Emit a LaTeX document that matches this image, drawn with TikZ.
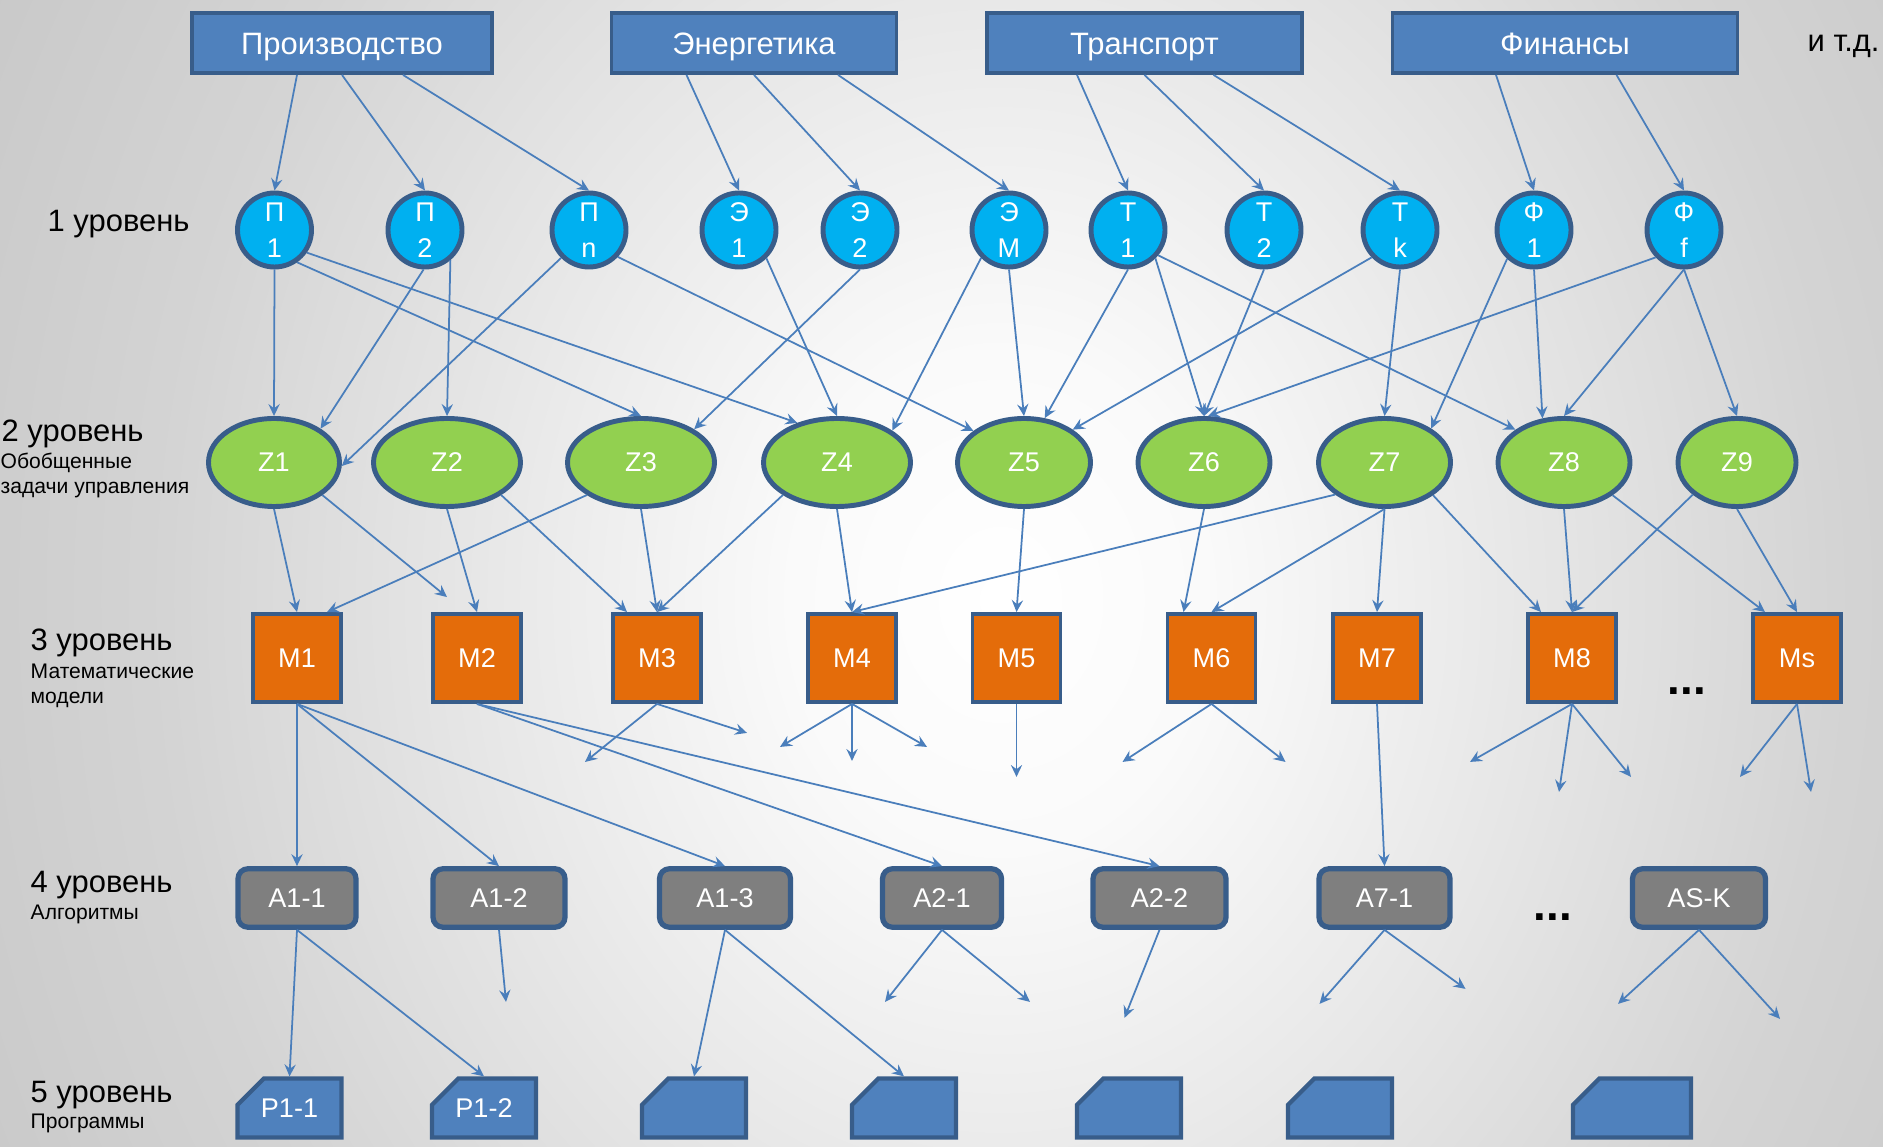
\documentclass[tikz,border=0pt]{standalone}
\usepackage{fontspec}
\setmainfont{Liberation Sans}
\usetikzlibrary{calc,shapes,arrows.meta}

\definecolor{edgeblue}{RGB}{56,93,138}
\definecolor{linkblue}{RGB}{74,126,187}
\definecolor{sectorblue}{RGB}{79,129,189}
\definecolor{subcyan}{RGB}{0,176,240}
\definecolor{taskgreen}{RGB}{146,208,80}
\definecolor{modelorange}{RGB}{228,108,10}
\definecolor{algogray}{RGB}{127,127,127}

% light spot in the middle, grey towards the edges
\pgfdeclareradialshading{backdrop}{\pgfpoint{0bp}{0bp}}{color(0bp)=(white); color(5bp)=(black!2); color(20bp)=(black!17); color(35bp)=(black!26); color(45bp)=(black!35); color(55bp)=(black!40); color(75bp)=(black!45)}

\tikzstyle{every picture}=[->,>={Stealth[length=3.4pt,width=3.2pt,inset=1.2pt]}]
\tikzstyle{sector}=[rectangle,draw=edgeblue,fill=sectorblue,line width=1.1pt,minimum height=0.6cm,text height=6.3pt,text depth=0pt,text=white,font=\fontsize{8.8}{10}\selectfont]
\tikzstyle{sub}=[circle,draw=edgeblue,fill=subcyan,line width=1.4pt,minimum size=0.74cm,inner sep=0pt,align=center,text=white,font=\fontsize{7.7}{10.2}\selectfont]
\tikzstyle{task}=[ellipse,draw=edgeblue,fill=taskgreen,line width=1.4pt,minimum height=0.88cm,inner sep=0pt,text=white,font=\fontsize{7.7}{9}\selectfont]
\tikzstyle{model}=[rectangle,draw=edgeblue,fill=modelorange,line width=1.1pt,minimum size=0.88cm,text=white,font=\fontsize{7.7}{9}\selectfont]
\tikzstyle{algo}=[rectangle,rounded corners=0.1cm,draw=edgeblue,fill=algogray,line width=1.5pt,minimum height=0.585cm,text=white,font=\fontsize{7.7}{9}\selectfont]
\tikzstyle{prog}=[chamfered rectangle,chamfered rectangle corners=north west,chamfered rectangle xsep=0.2cm,chamfered rectangle ysep=0.17cm,inner sep=0pt,draw=edgeblue,fill=sectorblue,line width=1.2pt,minimum height=0.59cm,minimum width=1.04cm,text=white,font=\fontsize{7.7}{9}\selectfont]
\tikzstyle{link}=[linkblue,line width=0.5pt]
\tikzstyle{level}=[anchor=base west,inner sep=0pt,font=\fontsize{8.8}{10}\selectfont]
\tikzstyle{sublevel}=[anchor=base west,inner sep=0pt,font=\fontsize{6}{7}\selectfont]

\begin{document}
\begin{tikzpicture}
    % background
    \begin{scope}
        \clip (0,0) rectangle (18.83,-11.47);
        \shade[shading=backdrop] (-0.5,6.5) rectangle (20.5,-18.5);
    \end{scope}
    \useasboundingbox (0,0) rectangle (18.83,-11.47);

    % Sectors
    \node[sector,minimum width=3.0cm] (prod) at (3.42,-0.43) {Производство};
    \node[sector,minimum width=2.85cm] (ener) at (7.54,-0.43) {Энергетика};
    \node[sector,minimum width=3.15cm] (trans) at (11.445,-0.43) {Транспорт};
    \node[sector,minimum width=3.45cm] (fin) at (15.65,-0.43) {Финансы};
    \node[level] (etc) at (18.07,-0.52) {и т.д.};

    % Level labels
    \node[level] (lev1) at (0.47,-2.32) {1 уровень};
    \node[level] (lev2) at (0.01,-4.42) {2 уровень};
    \node[sublevel] (lev2a) at (0.0,-4.69) {Обобщенные};
    \node[sublevel] (lev2b) at (0.0,-4.94) {задачи управления};
    \node[level] (lev3) at (0.30,-6.51) {3 уровень};
    \node[sublevel] (lev3a) at (0.30,-6.79) {Математические};
    \node[sublevel] (lev3b) at (0.30,-7.04) {модели};
    \node[level] (lev4) at (0.30,-8.92) {4 уровень};
    \node[sublevel] (lev4a) at (0.30,-9.19) {Алгоритмы};
    \node[level] (lev5) at (0.30,-11.02) {5 уровень};
    \node[sublevel] (lev5a) at (0.30,-11.28) {Программы};

    % Level 1
    \node[sub] (pr1) at (2.745,-2.30) {П\\1};
    \node[sub] (pr2) at (4.25,-2.30) {П\\2};
    \node[sub] (prn) at (5.89,-2.30) {П\\n};
    \node[sub] (en1) at (7.39,-2.30) {Э\\1};
    \node[sub] (en2) at (8.60,-2.30) {Э\\2};
    \node[sub] (enm) at (10.09,-2.30) {Э\\M};
    \node[sub] (tr1) at (11.28,-2.30) {Т\\1};
    \node[sub] (tr2) at (12.64,-2.30) {Т\\2};
    \node[sub] (trk) at (14.00,-2.30) {Т\\k};
    \node[sub] (fi1) at (15.34,-2.30) {Ф\\1};
    \node[sub] (fif) at (16.84,-2.30) {Ф\\f};

    % Level 2
    \node[task,minimum width=1.31cm] (z1) at (2.74,-4.625) {Z1};
    \node[task,minimum width=1.47cm] (z2) at (4.47,-4.625) {Z2};
    \node[task,minimum width=1.47cm] (z3) at (6.41,-4.625) {Z3};
    \node[task,minimum width=1.47cm] (z4) at (8.37,-4.625) {Z4};
    \node[task,minimum width=1.33cm] (z5) at (10.24,-4.625) {Z5};
    \node[task,minimum width=1.32cm] (z6) at (12.04,-4.625) {Z6};
    \node[task,minimum width=1.32cm] (z7) at (13.845,-4.625) {Z7};
    \node[task,minimum width=1.32cm] (z8) at (15.64,-4.625) {Z8};
    \node[task,minimum width=1.18cm] (z9) at (17.37,-4.625) {Z9};

    % Level 3
    \node[model] (m1) at (2.97,-6.58) {M1};
    \node[model] (m2) at (4.77,-6.58) {M2};
    \node[model] (m3) at (6.57,-6.58) {M3};
    \node[model] (m4) at (8.52,-6.58) {M4};
    \node[model] (m5) at (10.165,-6.58) {M5};
    \node[model] (m6) at (12.115,-6.58) {M6};
    \node[model] (m7) at (13.77,-6.58) {M7};
    \node[model] (m8) at (15.72,-6.58) {M8};
    \node[model] (ms) at (17.97,-6.58) {Ms};
    \node[font=\fontsize{13}{14}\bfseries\selectfont] (dots3) at (16.87,-6.915) {...};

    % Level 4
    \node[algo,minimum width=1.18cm] (a11) at (2.97,-8.98) {A1-1};
    \node[algo,minimum width=1.32cm] (a12) at (4.99,-8.98) {A1-2};
    \node[algo,minimum width=1.31cm] (a13) at (7.25,-8.98) {A1-3};
    \node[algo,minimum width=1.19cm] (a21) at (9.42,-8.98) {A2-1};
    \node[algo,minimum width=1.33cm] (a22) at (11.595,-8.98) {A2-2};
    \node[algo,minimum width=1.31cm] (a71) at (13.845,-8.98) {A7-1};
    \node[algo,minimum width=1.33cm] (ask) at (16.99,-8.98) {AS-K};
    \node[font=\fontsize{13}{14}\bfseries\selectfont] (dots4) at (15.53,-9.17) {...};

    % Level 5
    \node[prog] (prg1) at (2.895,-11.08) {P1-1};
    \node[prog] (prg2) at (4.84,-11.08) {P1-2};
    \node[prog] (prg3) at (6.94,-11.08) {\phantom{P1-1}};
    \node[prog] (prg4) at (9.04,-11.08) {\phantom{P1-1}};
    \node[prog] (prg5) at (11.29,-11.08) {\phantom{P1-1}};
    \node[prog] (prg6) at (13.40,-11.08) {\phantom{P1-1}};
    \node[prog,minimum width=1.18cm] (prg7) at (16.32,-11.08) {\phantom{P1-1}};

    % Sectors -> level 1
    \draw[link] ([xshift=-0.45cm]prod.south) -- (pr1.north);
    \draw[link] (prod.south) -- (pr2.north);
    \draw[link] ([xshift=0.61cm]prod.south) -- (prn.north);
    \draw[link] ([xshift=-0.675cm]ener.south) -- (en1.north);
    \draw[link] (ener.south) -- (en2.north);
    \draw[link] ([xshift=0.84cm]ener.south) -- (enm.north);
    \draw[link] ([xshift=-0.675cm]trans.south) -- (tr1.north);
    \draw[link] (trans.south) -- (tr2.north);
    \draw[link] ([xshift=0.69cm]trans.south) -- (trk.north);
    \draw[link] ([xshift=-0.69cm]fin.south) -- (fi1.north);
    \draw[link] ([xshift=0.515cm]fin.south) -- (fif.north);

    % Level 1 -> level 2
    \draw[link] (pr1.south) -- (z1.north);
    \draw[link] (pr1.-55) -- (z3.north);
    \draw[link] (pr1.-35) -- (z4.135);
    \draw[link] (pr2.-92) -- (z1.36);
    \draw[link] (pr2.-50) -- (z2.north);
    \draw[link] (prn.-135) -- (z1.-3);
    \draw[link] (prn.-43) -- (z5.148);
    \draw[link] (en1.-46) -- (z4.north);
    \draw[link] (en2.south) -- (z3.32);
    \draw[link] (enm.-135) -- (z4.30);
    \draw[link] (enm.south) -- (z5.north);
    \draw[link] (tr1.south) -- (z5.65);
    \draw[link] (tr1.-46) -- (z6.north);
    \draw[link] (tr1.-40) -- (z8.146);
    \draw[link] (tr2.south) -- (z6.north);
    \draw[link] (trk.-136) -- (z5.34);
    \draw[link] (trk.south) -- (z7.north);
    \draw[link] (fi1.-133) -- (z7.36);
    \draw[link] (fi1.south) -- (z8.116);
    \draw[link] (fif.-136) -- (z6.85);
    \draw[link] (fif.south) -- (z8.north);
    \draw[link] (fif.south) -- (z9.north);

    % Level 2 -> level 3
    \draw[link] (z1.south) -- (m1.north);
    \draw[link] (z1.-34) -- ([xshift=-0.3cm,yshift=0.15cm]m2.north);
    \draw[link] (z2.south) -- (m2.north);
    \draw[link] (z2.-31) -- ([xshift=-0.3cm]m3.north);
    \draw[link] (z3.-149) -- ([xshift=0.3cm]m1.north);
    \draw[link] (z3.south) -- (m3.north);
    \draw[link] (z4.-149) -- (m3.north);
    \draw[link] (z4.south) -- (m4.north);
    \draw[link] (z7.-147) -- (m4.north);
    \draw[link] (z5.south) -- (m5.north);
    \draw[link] (z6.south) -- ([xshift=-0.28cm]m6.north);
    \draw[link] (z7.south) -- (m6.north);
    \draw[link] (z7.south) -- (m7.north);
    \draw[link] (z7.-34) -- ([xshift=-0.31cm]m8.north);
    \draw[link] (z8.south) -- (m8.north);
    \draw[link] (z8.-34) -- ([xshift=-0.32cm]ms.north);
    \draw[link] (z9.-144) -- (m8.north);
    \draw[link] (z9.south) -- (ms.north);

    % Level 3 -> level 4
    \draw[link] (m1.south) -- (a11.north);
    \draw[link] (m1.south) -- (a12.north);
    \draw[link] (m1.south) -- (a13.north);
    \draw[link] (m2.south) -- (a21.north);
    \draw[link] (m2.south) -- (a22.north);
    \draw[link] (m3.south) -- ++(-0.72,-0.58);
    \draw[link] (m3.south) -- ++(0.90,-0.29);
    \draw[link] (m4.south) -- ++(-0.72,-0.43);
    \draw[link] (m4.south) -- ++(0,-0.57);
    \draw[link] (m4.south) -- ++(0.75,-0.43);
    \draw[link] (m5.south) -- ++(0,-0.73);
    \draw[link] (m6.south) -- ++(-0.89,-0.58);
    \draw[link] (m6.south) -- ++(0.74,-0.58);
    \draw[link] (m7.south) -- (a71.north);
    \draw[link] (m8.south) -- ++(-1.02,-0.58);
    \draw[link] (m8.south) -- ++(-0.13,-0.88);
    \draw[link] (m8.south) -- ++(0.59,-0.73);
    \draw[link] (ms.south) -- ++(-0.57,-0.73);
    \draw[link] (ms.south) -- ++(0.14,-0.88);

    % Level 4 -> level 5
    \draw[link] (a11.south) -- (prg1.north);
    \draw[link] (a11.south) -- (prg2.north);
    \draw[link] (a12.south) -- ++(0.07,-0.72);
    \draw[link] (a13.south) -- (prg3.north);
    \draw[link] (a13.south) -- (prg4.north);
    \draw[link] (a21.south) -- ++(-0.57,-0.72);
    \draw[link] (a21.south) -- ++(0.88,-0.72);
    \draw[link] (a22.south) -- ++(-0.35,-0.88);
    \draw[link] (a71.south) -- ++(-0.65,-0.74);
    \draw[link] (a71.south) -- ++(0.81,-0.59);
    \draw[link] (ask.south) -- ++(-0.81,-0.74);
    \draw[link] (ask.south) -- ++(0.81,-0.89);
\end{tikzpicture}
\end{document}
